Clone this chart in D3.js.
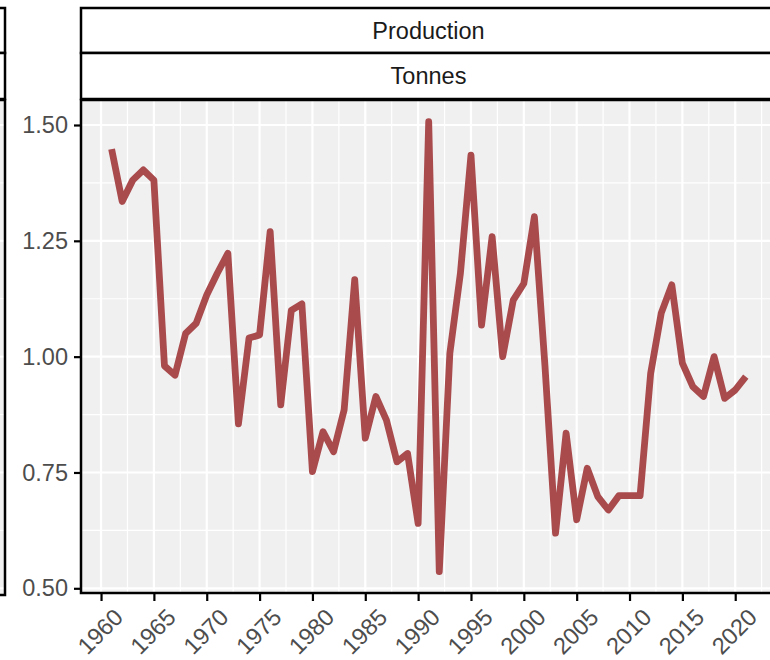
<!DOCTYPE html>
<meta charset="utf-8">
<head>
    <title>Production - Tonnes</title>
    <script src="https://d3js.org/d3.v7.min.js"></script>
    <style>
        body { margin: 0; background: #ffffff; }
        text { font-family: "Liberation Sans", Arial, sans-serif; }
    </style>
</head>
<body>
<div id="my_dataviz"></div>
<script>

// data
var years = d3.range(1961, 2022);
var values = [1.448, 1.335, 1.381, 1.403, 1.381, 0.980, 0.960, 1.050, 1.072, 1.133,
              1.180, 1.223, 0.855, 1.040, 1.047, 1.270, 0.896, 1.100, 1.114, 0.752,
              0.838, 0.795, 0.885, 1.166, 0.824, 0.914, 0.863, 0.773, 0.791, 0.640,
              1.507, 0.536, 1.007, 1.180, 1.435, 1.068, 1.259, 1.000, 1.122, 1.158,
              1.302, 0.980, 0.619, 0.835, 0.648, 0.759, 0.698, 0.669, 0.700, 0.700,
              0.700, 0.964, 1.094, 1.155, 0.986, 0.935, 0.914, 1.000, 0.910, 0.928,
              0.957];
var yTicks = [0.50, 0.75, 1.00, 1.25, 1.50];
var yMinor = [0.625, 0.875, 1.125, 1.375];
var xTicks = d3.range(1960, 2021, 5);
var xMinor = d3.range(1962.5, 2024, 5);
var stripLabels = ["Production", "Tonnes"];

var data = years.map(function(d, i) { return {year: d, value: values[i]}; });

var W = 770, H = 660;
var panel = {left: 81, right: 778, top: 100, bottom: 593};
var fontSize = "23.5px";

var svg = d3.select("#my_dataviz")
    .append("svg")
    .attr("width", W)
    .attr("height", H);

var x = d3.scaleLinear()
    .domain([1958, 2024])
    .range([79.9, 777.5]);

var y = d3.scaleLinear()
    .domain([0.5, 1.5])
    .range([588.3, 125]);

// partial neighbour panel on the far left
svg.append("rect")
    .attr("x", -20).attr("y", panel.top)
    .attr("width", 25).attr("height", panel.bottom - panel.top + 2)
    .attr("fill", "#f0f0f0");
yMinor.concat(yTicks).forEach(function(v) {
    svg.append("line")
        .attr("x1", -20).attr("x2", 5)
        .attr("y1", y(v)).attr("y2", y(v))
        .attr("stroke", "white")
        .attr("stroke-width", yTicks.indexOf(v) >= 0 ? 2 : 1);
});
svg.append("rect")
    .attr("x", -20).attr("y", panel.top)
    .attr("width", 25).attr("height", panel.bottom - panel.top + 2)
    .attr("fill", "none").attr("stroke", "black").attr("stroke-width", 2.5);
[8, 53].forEach(function(t, i) {
    svg.append("rect")
        .attr("x", -20).attr("y", t)
        .attr("width", 25).attr("height", 45 + i)
        .attr("fill", "white").attr("stroke", "black").attr("stroke-width", 2.5);
});

// panel background
svg.append("rect")
    .attr("x", panel.left).attr("y", panel.top)
    .attr("width", panel.right - panel.left).attr("height", panel.bottom - panel.top)
    .attr("fill", "#f0f0f0");

// grid lines
svg.selectAll(".ygrid-minor").data(yMinor).enter().append("line")
    .attr("x1", panel.left).attr("x2", panel.right)
    .attr("y1", function(d) { return y(d); }).attr("y2", function(d) { return y(d); })
    .attr("stroke", "white").attr("stroke-width", 1.2);
svg.selectAll(".xgrid-minor").data(xMinor).enter().append("line")
    .attr("y1", panel.top).attr("y2", panel.bottom)
    .attr("x1", function(d) { return x(d); }).attr("x2", function(d) { return x(d); })
    .attr("stroke", "white").attr("stroke-width", 1.2);
svg.selectAll(".ygrid").data(yTicks).enter().append("line")
    .attr("x1", panel.left).attr("x2", panel.right)
    .attr("y1", function(d) { return y(d); }).attr("y2", function(d) { return y(d); })
    .attr("stroke", "white").attr("stroke-width", 2.2);
svg.selectAll(".xgrid").data(xTicks).enter().append("line")
    .attr("y1", panel.top).attr("y2", panel.bottom)
    .attr("x1", function(d) { return x(d); }).attr("x2", function(d) { return x(d); })
    .attr("stroke", "white").attr("stroke-width", 2.2);

// the series
svg.append("path")
    .datum(data)
    .attr("fill", "none")
    .attr("stroke", "#a94a4d")
    .attr("stroke-width", 6.8)
    .attr("stroke-linejoin", "round")
    .attr("d", d3.line()
        .x(function(d) { return x(d.year); })
        .y(function(d) { return y(d.value); })
    );

// panel border
svg.append("rect")
    .attr("x", panel.left).attr("y", panel.top)
    .attr("width", panel.right - panel.left).attr("height", panel.bottom - panel.top)
    .attr("fill", "none").attr("stroke", "black").attr("stroke-width", 2.5);

// strips
var stripTops = [8, 53];
stripLabels.forEach(function(lab, i) {
    svg.append("rect")
        .attr("x", panel.left).attr("y", stripTops[i])
        .attr("width", panel.right - panel.left).attr("height", 45 + i)
        .attr("fill", "white").attr("stroke", "black").attr("stroke-width", 2.5);
    svg.append("text")
        .attr("x", 428.5).attr("y", stripTops[i] + 23)
        .attr("text-anchor", "middle")
        .attr("dominant-baseline", "central")
        .style("font-size", fontSize)
        .attr("fill", "#1a1a1a")
        .text(lab);
});

// y axis
var yAxis = svg.append("g")
    .attr("transform", "translate(" + panel.left + ",0)")
    .call(d3.axisLeft(y).tickValues(yTicks).tickFormat(d3.format(".2f")).tickSize(7).tickPadding(6));
yAxis.select(".domain").remove();
yAxis.selectAll(".tick line").attr("stroke", "black").attr("stroke-width", 2.2);
yAxis.selectAll(".tick text")
    .attr("fill", "#4d4d4d")
    .style("font-size", fontSize)
    .style("font-family", "Liberation Sans, Arial, sans-serif");

// x axis
var xAxis = svg.append("g")
    .attr("transform", "translate(0," + panel.bottom + ")")
    .call(d3.axisBottom(x).tickValues(xTicks).tickFormat(d3.format("d")).tickSize(8));
xAxis.select(".domain").remove();
xAxis.selectAll(".tick line").attr("stroke", "black").attr("stroke-width", 2.2);
xAxis.selectAll(".tick text")
    .attr("fill", "#4d4d4d")
    .style("font-size", fontSize)
    .style("font-family", "Liberation Sans, Arial, sans-serif")
    .attr("text-anchor", "end")
    .attr("dy", null)
    .attr("y", 0)
    .attr("dominant-baseline", "hanging")
    .attr("transform", "translate(11,14) rotate(-45)");

</script>
</body>
</html>
